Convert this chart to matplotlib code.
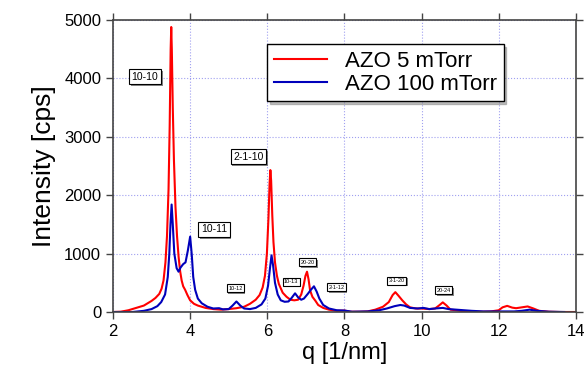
import matplotlib.pyplot as plt
import matplotlib.patheffects as pe

plt.rcParams['font.family'] = ['Liberation Sans', 'DejaVu Sans']

# AZO 5 mTorr (red)
q_5 = [2.0, 2.2, 2.4, 2.6, 2.8, 3.0, 3.1, 3.2, 3.26, 3.31, 3.36, 3.40, 3.44, 3.47, 3.495,
       3.51, 3.525, 3.55, 3.58, 3.62, 3.66, 3.70, 3.74, 3.78, 3.82, 3.87, 3.93, 4.0, 4.1,
       4.2, 4.4, 4.6, 4.8, 5.0, 5.2, 5.4, 5.55, 5.7, 5.8, 5.88, 5.94, 5.99, 6.03, 6.06,
       6.08, 6.10, 6.13, 6.16, 6.2, 6.25, 6.3, 6.4, 6.5, 6.6, 6.7, 6.8, 6.88, 6.94, 6.99,
       7.03, 7.07, 7.11, 7.17, 7.25, 7.32, 7.45, 7.6, 7.8, 8.0, 8.15, 8.4, 8.6, 8.8, 9.0,
       9.15, 9.25, 9.32, 9.4, 9.5, 9.6, 9.7, 9.85, 10.0, 10.2, 10.35, 10.45, 10.55, 10.65,
       10.75, 10.9, 11.0, 11.2, 11.6, 11.8, 12.0, 12.1, 12.22, 12.35, 12.45, 12.6, 12.75,
       12.9, 13.05, 13.3, 13.6, 14.0]
i_5 = [0, 5, 30, 70, 110, 190, 240, 310, 400, 540, 850, 1300, 2100, 3200, 4500,
       4880, 4500, 3500, 2600, 1800, 1300, 950, 700, 540, 440, 380, 290, 200, 140,
       110, 70, 50, 40, 50, 65, 90, 140, 210, 290, 420, 620, 1000, 1600, 2200,
       2430, 2250, 1650, 1200, 850, 620, 480, 330, 260, 210, 200, 210, 300, 450, 620,
       690, 560, 370, 260, 190, 120, 70, 40, 20, 25, 5, 5, 10, 40, 90,
       170, 290, 340, 280, 200, 130, 80, 60, 60, 50, 60, 110, 165, 110,
       40, 30, 20, 10, 5, 10, 30, 80, 105, 75, 65, 80, 95,
       60, 20, 5, 0, 0]

# AZO 100 mTorr (blue)
q_100 = [2.0, 2.5, 2.8, 3.0, 3.15, 3.25, 3.35, 3.42, 3.46, 3.49, 3.52, 3.55, 3.59, 3.65,
         3.7, 3.75, 3.82, 3.88, 3.94, 4.0, 4.04, 4.08, 4.13, 4.2, 4.3, 4.45, 4.6, 4.75,
         4.85, 5.0, 5.1, 5.2, 5.3, 5.4, 5.55, 5.7, 5.85, 5.95, 6.02, 6.07, 6.11, 6.15,
         6.2, 6.27, 6.35, 6.45, 6.55, 6.63, 6.72, 6.8, 6.88, 6.95, 7.05, 7.13, 7.21, 7.28,
         7.35, 7.45, 7.6, 7.8, 8.0, 8.2, 8.6, 8.9, 9.1, 9.3, 9.45, 9.55, 9.7, 9.9, 10.05,
         10.2, 10.35, 10.55, 10.7, 10.9, 11.1, 11.3, 11.6, 12.0, 12.4, 12.6, 12.8, 13.0,
         13.3, 13.7]
i_100 = [0, 0, 20, 50, 100, 170, 300, 600, 1000, 1500, 1840, 1500, 1000, 750,
         690, 760, 820, 850, 1050, 1290, 1000, 600, 380, 230, 150, 90, 60, 65,
         45, 50, 110, 180, 110, 60, 50, 70, 130, 230, 450, 750, 970, 800,
         500, 300, 200, 175, 180, 240, 320, 250, 210, 230, 310, 380, 440, 350,
         230, 120, 60, 30, 25, 5, 10, 30, 60, 100, 120, 110, 70, 60, 70,
         50, 60, 70, 50, 40, 30, 20, 10, 10, 10, 20, 40, 20,
         5, 0]

# peak labels: (text, q, intensity, size)
labels = [('10-10', 2.83, 4030, 7.5), ('10-11', 4.62, 1415, 7.5), ('2-1-10', 5.51, 2660, 7.5),
          ('10-12', 5.17, 410, 4), ('10-13', 6.62, 520, 4), ('20-20', 7.04, 850, 4),
          ('2-1-12', 7.79, 425, 4), ('3-1-20', 9.36, 537, 4), ('20-24', 10.57, 375, 4)]

fig = plt.figure(figsize=(5.87, 3.78), dpi=100)
ax = fig.add_axes([0.1925, 0.1746, 0.7885, 0.7725])

ax.plot(q_5, i_5, color='#ff0000', linewidth=1.5, label='AZO 5 mTorr')
ax.plot(q_100, i_100, color='#0000bb', linewidth=1.5, label='AZO 100 mTorr')

for txt, x, y, fs in labels:
    t = ax.text(x, y, txt, fontsize=fs, ha='center', va='center',
                bbox=dict(boxstyle='square,pad=0.25', fc='white', ec='black', lw=0.8))
    t.get_bbox_patch().set_path_effects([pe.SimplePatchShadow(offset=(1.2, -1.2), shadow_rgbFace='0.4', alpha=0.8),
                                         pe.Normal()])

ax.set_xlim(2, 14)
ax.set_ylim(0, 5000)
ax.set_xticks(range(2, 15, 2))
ax.set_yticks(range(0, 5001, 1000))
ax.grid(True, linestyle=':', color='#a0a0f0', linewidth=0.8)
ax.tick_params(direction='out', length=5, width=1, labelsize=12, top=True, right=True,
               color='#444444')
for s in ax.spines.values():
    s.set_color('#444444')
    s.set_linewidth(1.2)

ax.set_xlabel('q [1/nm]', fontsize=17, labelpad=2)
ax.set_ylabel('Intensity [cps]', fontsize=19, labelpad=6)

leg = ax.legend(loc='upper left', bbox_to_anchor=(0.455, 0.884), bbox_transform=fig.transFigure,
                borderaxespad=0, fontsize=16, fancybox=False, framealpha=1, edgecolor='black',
                handlelength=2.4, labelspacing=0.1, borderpad=0.3,
                shadow={'ox': 2, 'oy': -2, 'color': '0.5'})
leg.get_frame().set_linewidth(1.0)

fig.savefig('out.png', dpi=100)
